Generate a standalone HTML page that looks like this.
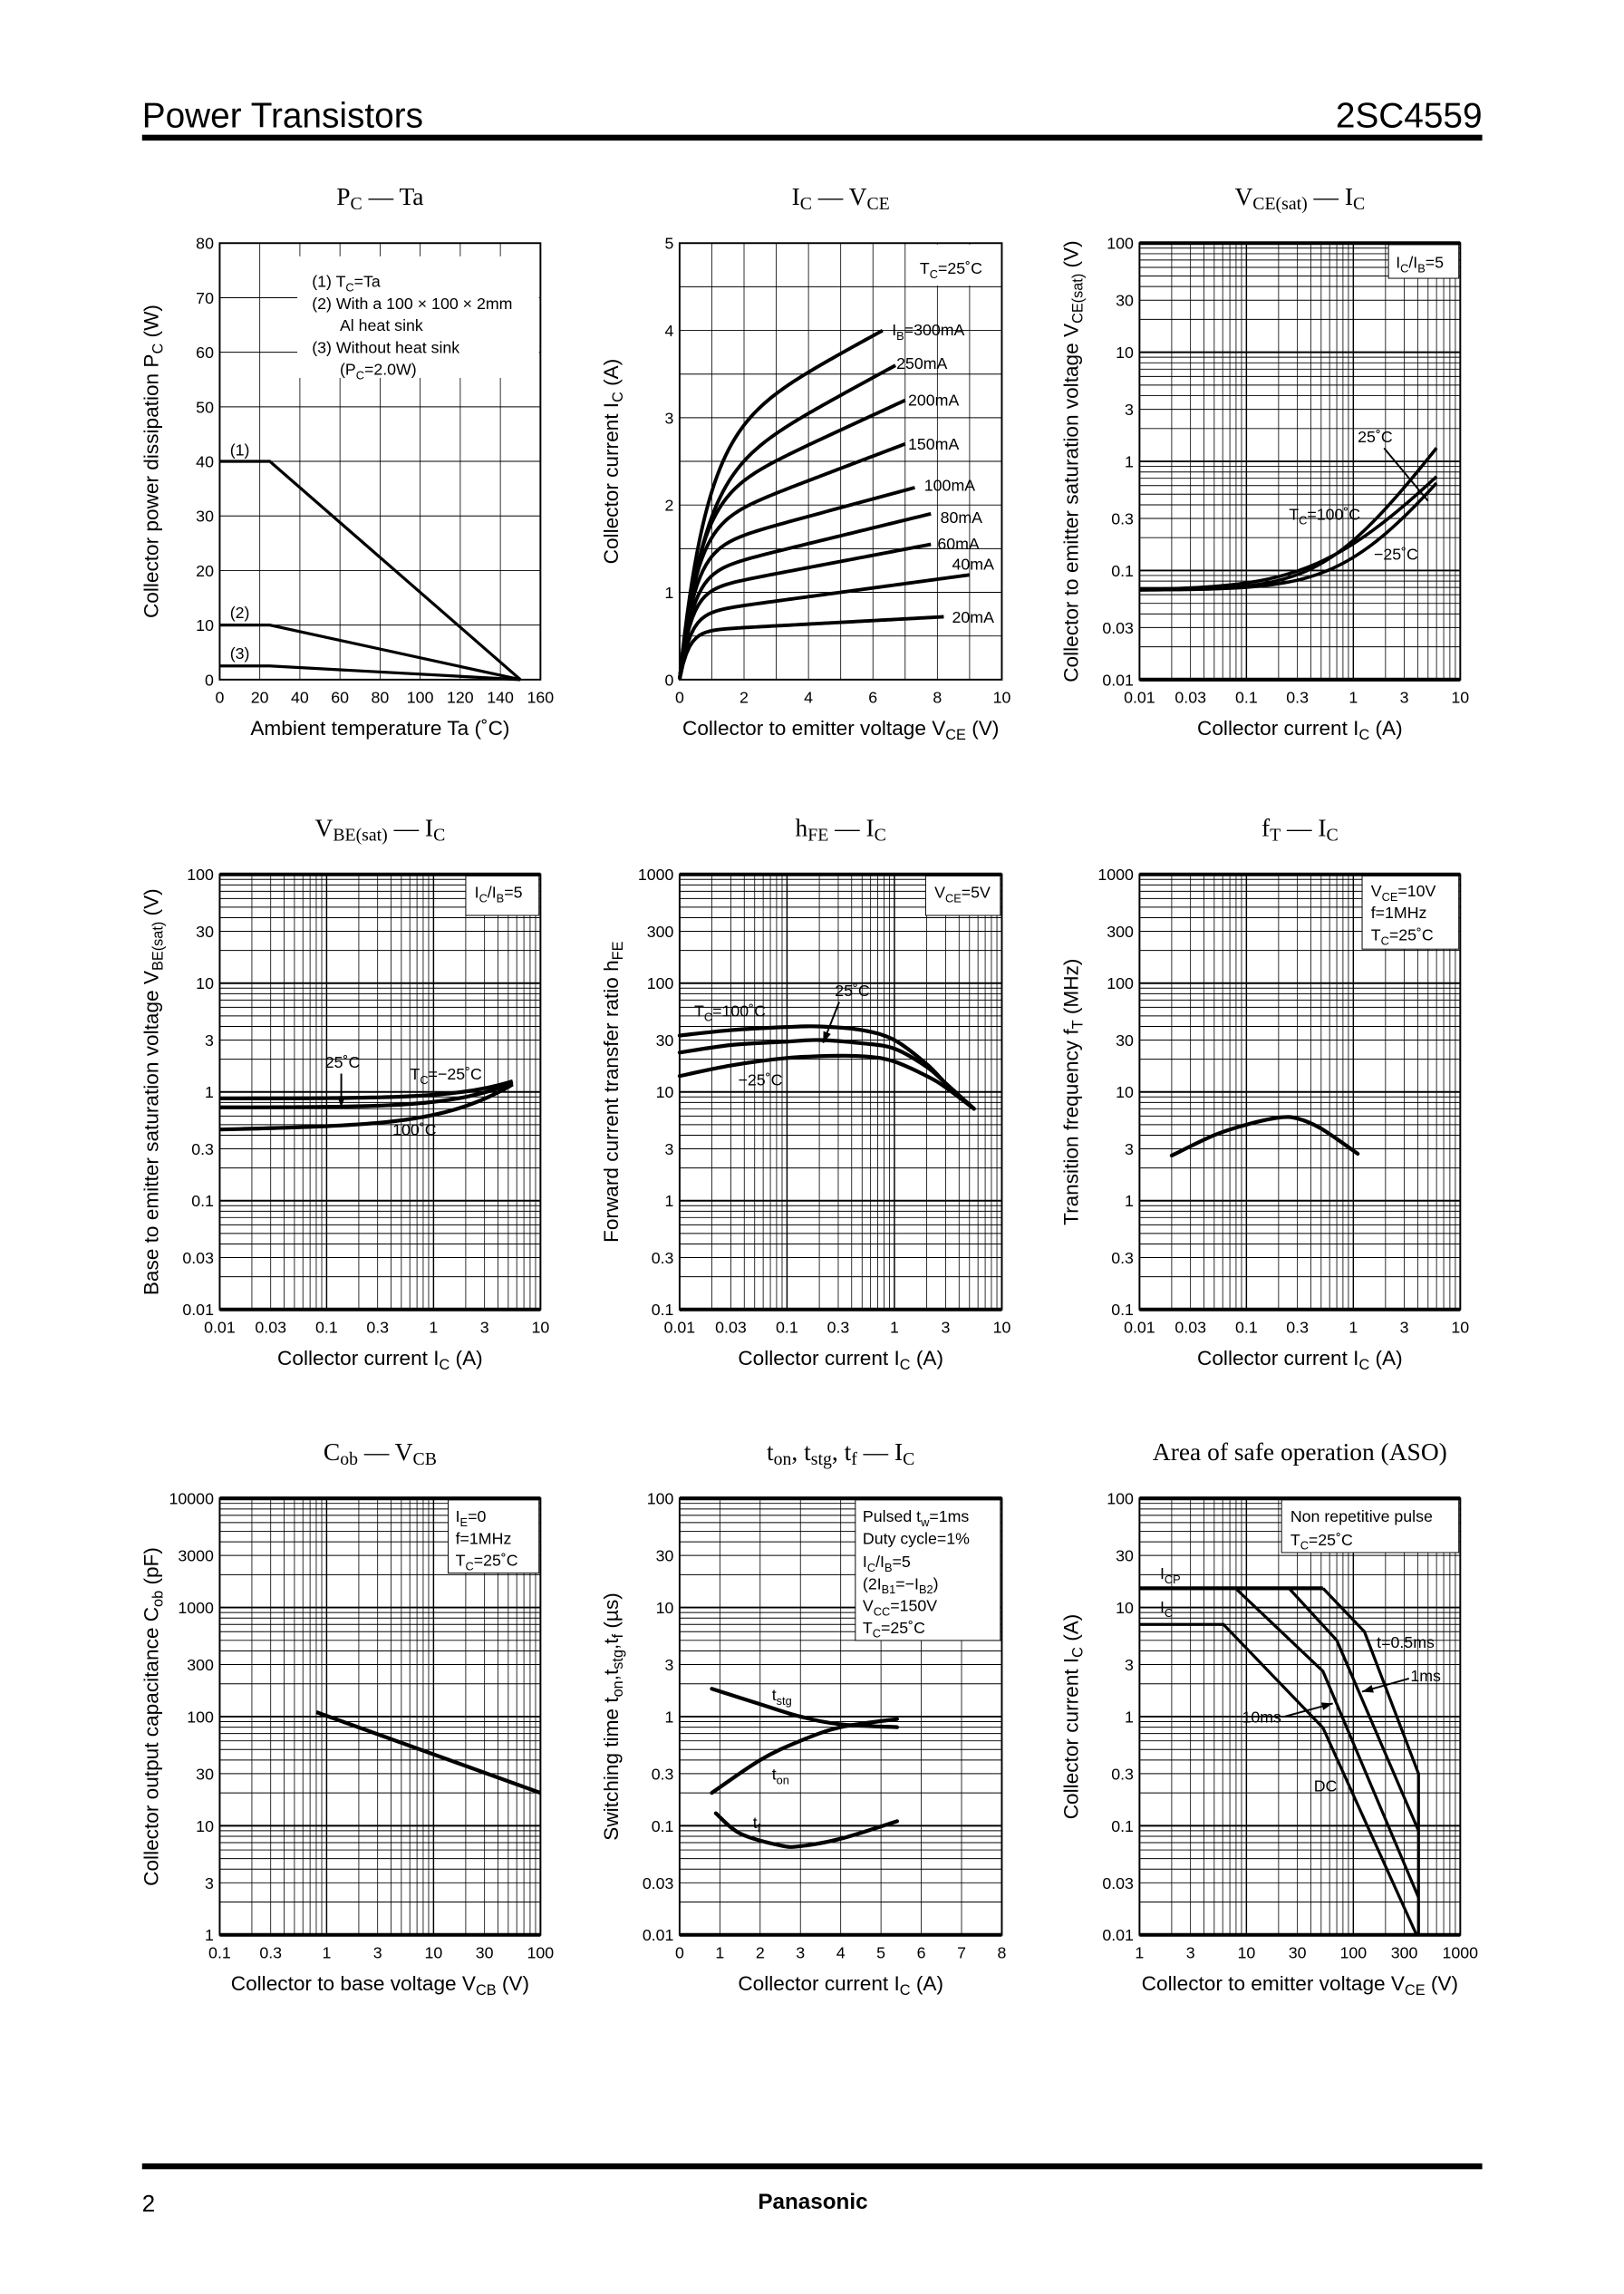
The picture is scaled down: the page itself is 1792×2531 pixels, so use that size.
<!DOCTYPE html>
<html><head><meta charset="utf-8">
<style>
html,body{margin:0;padding:0;background:#fff}
svg{display:block}
text{font-family:"Liberation Sans",Arial,sans-serif;fill:#000}
.serif{font-family:"Liberation Serif","Times New Roman",serif}
</style></head>
<body>
<svg id="s" xmlns="http://www.w3.org/2000/svg" width="1792" height="2531" viewBox="0 0 1108.8 1566.2" preserveAspectRatio="none"></svg>
<script>
var out=[];
function P(s){out.push(s);}
function T(x,y,s,sz,anc,extra){P('<text x="'+x+'" y="'+y+'" font-size="'+(sz||11)+'" text-anchor="'+(anc||'start')+'" '+(extra||'')+'>'+s+'</text>');}
function sub(s){return '<tspan font-size="0.72em" dy="3">'+s+'</tspan><tspan dy="-3">\u200B</tspan>';}
var L10=Math.log10;
function mk(c){
  c.fx=function(v){return c.xlog? c.x0+(L10(v)-L10(c.xmin))/(L10(c.xmax)-L10(c.xmin))*(c.x1-c.x0) : c.x0+(v-c.xmin)/(c.xmax-c.xmin)*(c.x1-c.x0);};
  c.fy=function(v){return c.ylog? c.y1-(L10(v)-L10(c.ymin))/(L10(c.ymax)-L10(c.ymin))*(c.y1-c.y0) : c.y1-(v-c.ymin)/(c.ymax-c.ymin)*(c.y1-c.y0);};
  function vals(log,min,max,step){var a=[];if(log){for(var d=Math.floor(L10(min));d<=Math.ceil(L10(max));d++)for(var m=1;m<=9;m++){var v=m*Math.pow(10,d);if(v>=min*0.999&&v<=max*1.001)a.push([v,m==1]);}}else{for(var v=min;v<=max+1e-9;v+=step)a.push([v,false]);}return a;}
  vals(c.xlog,c.xmin,c.xmax,c.xstep).forEach(function(p){var x=c.fx(p[0]);P('<line x1="'+x+'" y1="'+c.y0+'" x2="'+x+'" y2="'+c.y1+'" stroke="#000" stroke-width="'+(p[1]?0.9:0.5)+'"/>');});
  vals(c.ylog,c.ymin,c.ymax,c.ystep).forEach(function(p){var y=c.fy(p[0]);P('<line x1="'+c.x0+'" y1="'+y+'" x2="'+c.x1+'" y2="'+y+'" stroke="#000" stroke-width="'+(p[1]?1.2:0.6)+'"/>');});
  if(c.box){var b=c.box;P('<rect x="'+b[0]+'" y="'+b[1]+'" width="'+(b[2]-b[0])+'" height="'+(b[3]-b[1])+'" fill="#fff" stroke="'+(b[4]?'none':'#000')+'" stroke-width="0.6"/>');}
  P('<rect x="'+c.x0+'" y="'+c.y0+'" width="'+(c.x1-c.x0)+'" height="'+(c.y1-c.y0)+'" fill="none" stroke="#000" stroke-width="1.2"/>');
  if(c.ylog){P('<line x1="'+c.x0+'" y1="'+c.y0+'" x2="'+c.x1+'" y2="'+c.y0+'" stroke="#000" stroke-width="2.5"/>');P('<line x1="'+c.x0+'" y1="'+c.y1+'" x2="'+c.x1+'" y2="'+c.y1+'" stroke="#000" stroke-width="2.5"/>');}
  c.xt.forEach(function(v){T(c.fx(v),c.y1+16,String(v),11,'middle');});
  c.yt.forEach(function(v){T(c.x0-4,c.fy(v)+4,String(v),11,'end');});
  T((c.x0+c.x1)/2,c.y0-26,c.title,17,'middle','class="serif"');
  T((c.x0+c.x1)/2,c.y1+38,c.xlab,14,'middle');
  var ym=(c.y0+c.y1)/2,yx=c.x0-42;
  T(yx,ym,c.ylab,14,'middle','transform="rotate(-90 '+yx+' '+ym+')"');
  return c;
}
function curve(c,pts,w){
  var p=pts.map(function(q){return [c.fx(q[0]),c.fy(q[1])];});
  var d='M'+p[0][0].toFixed(2)+','+p[0][1].toFixed(2);
  for(var i=0;i<p.length-1;i++){
    var p0=p[i-1]||p[i],p1=p[i],p2=p[i+1],p3=p[i+2]||p2;
    var c1=[p1[0]+(p2[0]-p0[0])/6,p1[1]+(p2[1]-p0[1])/6],c2=[p2[0]-(p3[0]-p1[0])/6,p2[1]-(p3[1]-p1[1])/6];
    d+=' C'+c1[0].toFixed(2)+','+c1[1].toFixed(2)+' '+c2[0].toFixed(2)+','+c2[1].toFixed(2)+' '+p2[0].toFixed(2)+','+p2[1].toFixed(2);
  }
  P('<path d="'+d+'" fill="none" stroke="#000" stroke-width="'+(w||2.6)+'" stroke-linecap="round"/>');
}
function poly(c,pts,w){P('<polyline points="'+pts.map(function(q){return c.fx(q[0]).toFixed(2)+','+c.fy(q[1]).toFixed(2);}).join(' ')+'" fill="none" stroke="#000" stroke-width="'+(w||2)+'"/>');}
function fn(c,f,a,b,n,log,w){var pts=[];for(var i=0;i<=n;i++){var t=i/n;var v=log?Math.pow(10,L10(a)+t*(L10(b)-L10(a))):a+t*(b-a);pts.push([v,f(v)]);}poly(c,pts,w||2.6);}
function arrow(x1,y1,x2,y2){P('<line x1="'+x1+'" y1="'+y1+'" x2="'+x2+'" y2="'+y2+'" stroke="#000" stroke-width="1.2"/>');var a=Math.atan2(y2-y1,x2-x1),l=8,s=0.35;P('<polygon points="'+x2+','+y2+' '+(x2-l*Math.cos(a-s))+','+(y2-l*Math.sin(a-s))+' '+(x2-l*Math.cos(a+s))+','+(y2-l*Math.sin(a+s))+'" fill="#000"/>');}

P('<text x="97" y="87" font-size="24">Power Transistors</text>');
P('<text x="1012" y="87" font-size="24" text-anchor="end">2SC4559</text>');
P('<rect x="97" y="92" width="915" height="4" fill="#000"/>');
P('<rect x="97" y="1477" width="915" height="4" fill="#000"/>');
P('<text x="97" y="1510" font-size="16">2</text>');
P('<text x="555" y="1508" font-size="15" font-weight="bold" text-anchor="middle">Panasonic</text>');

var lg=[0.01,0.03,0.1,0.3,1,3,10];
var c=mk({x0:150,x1:369,y0:166,y1:464,xmin:0,xmax:160,xstep:20,ymin:0,ymax:80,ystep:10,xt:[0,20,40,60,80,100,120,140,160],yt:[0,10,20,30,40,50,60,70,80],
 box:[203,175,368,258,1],title:'P'+sub('C')+' — Ta',xlab:'Ambient temperature   Ta   (˚C)',ylab:'Collector power dissipation   P'+sub('C')+'   (W)'});
poly(c,[[0,40],[25,40],[150,0]],2);poly(c,[[0,10],[25,10],[150,0]],2);poly(c,[[0,2.5],[25,2.5],[150,0]],2);
T(213,196,'(1) T'+sub('C')+'=Ta',11);T(213,211,'(2) With a 100 × 100 × 2mm',11);T(232,226,'Al heat sink',11);T(213,241,'(3) Without heat sink',11);T(232,256,'(P'+sub('C')+'=2.0W)',11);
T(157,311,'(1)',11);T(157,422,'(2)',11);T(157,450,'(3)',11);
c=mk({x0:464,x1:684,y0:166,y1:464,xmin:0,xmax:10,xstep:1,ymin:0,ymax:5,ystep:0.5,xt:[0,2,4,6,8,10],yt:[0,1,2,3,4,5],
 box:[620,167,683,195,1],title:'I'+sub('C')+' — V'+sub('CE'),xlab:'Collector to emitter voltage   V'+sub('CE')+'   (V)',ylab:'Collector current   I'+sub('C')+'   (A)'});
T(628,187,'T'+sub('C')+'=25˚C',11);
[[4.0,6.3,.2,.8],[3.6,6.7,.2,.75],[3.2,7,.17,.6],[2.7,7,.14,.5],[2.2,7.3,.1,.45],[1.9,7.8,.09,.4],[1.55,7.8,.07,.35],[1.2,9,.05,.32],[0.72,8.2,.02,.28]].forEach(function(q){var a=q[0]-q[2]*q[1];fn(c,function(v){return a*(1-Math.exp(-v/q[3]))+q[2]*v;},0.001,q[1],80,false,2.4);});
T(609,229,'I'+sub('B')+'=300mA',11);T(612,252,'250mA',11);T(620,277,'200mA',11);T(620,307,'150mA',11);T(631,335,'100mA',11);T(642,357,'80mA',11);T(640,375,'60mA',11);T(650,389,'40mA',11);T(650,425,'20mA',11);
c=mk({x0:778,x1:997,y0:166,y1:464,xlog:1,ylog:1,xmin:0.01,xmax:10,ymin:0.01,ymax:100,xt:lg,yt:[0.01,0.03,0.1,0.3,1,3,10,30,100],
 box:[948,167,996,190],title:'V'+sub('CE(sat)')+' — I'+sub('C'),xlab:'Collector current   I'+sub('C')+'   (A)',ylab:'Collector to emitter saturation voltage   V'+sub('CE(sat)')+'   (V)'});
T(953,183,'I'+sub('C')+'/I'+sub('B')+'=5',11);
fn(c,function(I){return 0.066*(1+Math.pow(I/0.62,1.3));},0.01,6,60,true,2.2);
fn(c,function(I){return 0.066*(1+Math.pow(I/0.6,1.0));},0.01,6,60,true,2.2);
fn(c,function(I){return 0.066*(1+Math.pow(I/1.0,1.2));},0.01,6,60,true,2.2);
T(927,302,'25˚C',11);P('<line x1="945" y1="306" x2="975" y2="342" stroke="#000" stroke-width="1.2"/>');
T(880,355,'T'+sub('C')+'=100˚C',11);T(938,382,'−25˚C',11);
c=mk({x0:150,x1:369,y0:597,y1:894,xlog:1,ylog:1,xmin:0.01,xmax:10,ymin:0.01,ymax:100,xt:lg,yt:[0.01,0.03,0.1,0.3,1,3,10,30,100],
 box:[318,598,368,625],title:'V'+sub('BE(sat)')+' — I'+sub('C'),xlab:'Collector current   I'+sub('C')+'   (A)',ylab:'Base to emitter saturation voltage   V'+sub('BE(sat)')+'   (V)'});
T(324,613,'I'+sub('C')+'/I'+sub('B')+'=5',11);
fn(c,function(I){return 0.87+0.07*I;},0.01,5.5,60,true,2.6);
fn(c,function(I){return 0.72+0.09*I;},0.01,5.5,60,true,2.6);
fn(c,function(I){return 0.45*(1+0.05*L10(I/0.01))+0.12*I;},0.01,5.5,60,true,2.6);
T(222,729,'25˚C',11);arrow(233,733,233,756);T(280,737,'T'+sub('C')+'=−25˚C',11);T(268,775,'100˚C',11);
c=mk({x0:464,x1:684,y0:597,y1:894,xlog:1,ylog:1,xmin:0.01,xmax:10,ymin:0.1,ymax:1000,xt:lg,yt:[0.1,0.3,1,3,10,30,100,300,1000],
 box:[632,598,683,625],title:'h'+sub('FE')+' — I'+sub('C'),xlab:'Collector current   I'+sub('C')+'   (A)',ylab:'Forward current transfer ratio   h'+sub('FE')});
T(638,613,'V'+sub('CE')+'=5V',11);
curve(c,[[0.01,33],[0.03,37],[0.1,39.5],[0.2,40],[0.5,37],[1,30],[2,18],[3,12],[5.5,7]]);
curve(c,[[0.01,23],[0.03,27],[0.1,29],[0.2,30],[0.5,28],[1,25],[2,17],[3,12],[5.5,7]]);
curve(c,[[0.01,14],[0.03,17.5],[0.1,20.5],[0.3,21.5],[0.6,21],[1,19],[2,14],[3,11],[5.5,7]]);
T(474,694,'T'+sub('C')+'=100˚C',11);T(570,680,'25˚C',11);arrow(573,684,562,712);T(504,741,'−25˚C',11);
c=mk({x0:778,x1:997,y0:597,y1:894,xlog:1,ylog:1,xmin:0.01,xmax:10,ymin:0.1,ymax:1000,xt:lg,yt:[0.1,0.3,1,3,10,30,100,300,1000],
 box:[930,598,996,648],title:'f'+sub('T')+' — I'+sub('C'),xlab:'Collector current   I'+sub('C')+'   (A)',ylab:'Transition frequency   f'+sub('T')+'   (MHz)'});
T(936,612,'V'+sub('CE')+'=10V',11);T(936,627,'f=1MHz',11);T(936,642,'T'+sub('C')+'=25˚C',11);
curve(c,[[0.02,2.6],[0.05,4],[0.1,5],[0.2,5.8],[0.3,5.7],[0.5,4.6],[1.1,2.7]]);
c=mk({x0:150,x1:369,y0:1023,y1:1321,xlog:1,ylog:1,xmin:0.1,xmax:100,ymin:1,ymax:10000,xt:[0.1,0.3,1,3,10,30,100],yt:[1,3,10,30,100,300,1000,3000,10000],
 box:[306,1024,368,1074],title:'C'+sub('ob')+' — V'+sub('CB'),xlab:'Collector to base voltage   V'+sub('CB')+'   (V)',ylab:'Collector output capacitance   C'+sub('ob')+'   (pF)'});
T(311,1039,'I'+sub('E')+'=0',11);T(311,1054,'f=1MHz',11);T(311,1069,'T'+sub('C')+'=25˚C',11);
poly(c,[[0.8,110],[100,20]],2.6);
c=mk({x0:464,x1:684,y0:1023,y1:1321,ylog:1,xmin:0,xmax:8,xstep:1,ymin:0.01,ymax:100,xt:[0,1,2,3,4,5,6,7,8],yt:[0.01,0.03,0.1,0.3,1,3,10,30,100],
 box:[584,1024,683,1120],title:'t'+sub('on')+', t'+sub('stg')+', t'+sub('f')+' — I'+sub('C'),xlab:'Collector current   I'+sub('C')+'   (A)',ylab:'Switching time   t'+sub('on')+',t'+sub('stg')+',t'+sub('f')+'   (µs)'});
T(589,1039,'Pulsed t'+sub('w')+'=1ms',11);T(589,1054,'Duty cycle=1%',11);T(589,1070,'I'+sub('C')+'/I'+sub('B')+'=5',11);T(589,1085,'(2I'+sub('B1')+'=−I'+sub('B2')+')',11);T(589,1100,'V'+sub('CC')+'=150V',11);T(589,1115,'T'+sub('C')+'=25˚C',11);
curve(c,[[0.8,1.8],[2,1.3],[3,1.0],[4,0.85],[5.4,0.8]]);
curve(c,[[0.8,0.2],[2,0.4],[3,0.6],[4,0.8],[5.4,0.95]]);
curve(c,[[0.9,0.13],[1.5,0.085],[2.5,0.066],[3,0.065],[4,0.076],[5.4,0.11]]);
T(527,1161,'t'+sub('stg'),11);T(527,1215,'t'+sub('on'),11);T(514,1248,'t'+sub('f'),11);
c=mk({x0:778,x1:997,y0:1023,y1:1321,xlog:1,ylog:1,xmin:1,xmax:1000,ymin:0.01,ymax:100,xt:[1,3,10,30,100,300,1000],yt:[0.01,0.03,0.1,0.3,1,3,10,30,100],
 box:[875,1024,996,1060],title:'Area of safe operation (ASO)',xlab:'Collector to emitter voltage   V'+sub('CE')+'   (V)',ylab:'Collector current   I'+sub('C')+'   (A)'});
T(881,1039,'Non repetitive pulse',11);T(881,1055,'T'+sub('C')+'=25˚C',11);
poly(c,[[1,15],[52,15]],2.6);
poly(c,[[1,7],[6.1,7],[52,0.79],[390,0.01]],2);
poly(c,[[7.9,15],[52,2.6],[407,0.022]],2);
poly(c,[[25,15],[70,5],[407,0.09]],2);
poly(c,[[52,15],[127,6],[407,0.3],[407,0.01]],2);
T(792,1078,'I'+sub('CP'),11);T(792,1101,'I'+sub('C'),11);T(940,1125,'t=0.5ms',11);T(963,1148,'1ms',11);arrow(962,1146,930,1155);T(848,1176,'10ms',11);arrow(877,1172,910,1163);T(897,1223,'DC',11);
document.getElementById('s').innerHTML=out.join('');
</script>
</body></html>
